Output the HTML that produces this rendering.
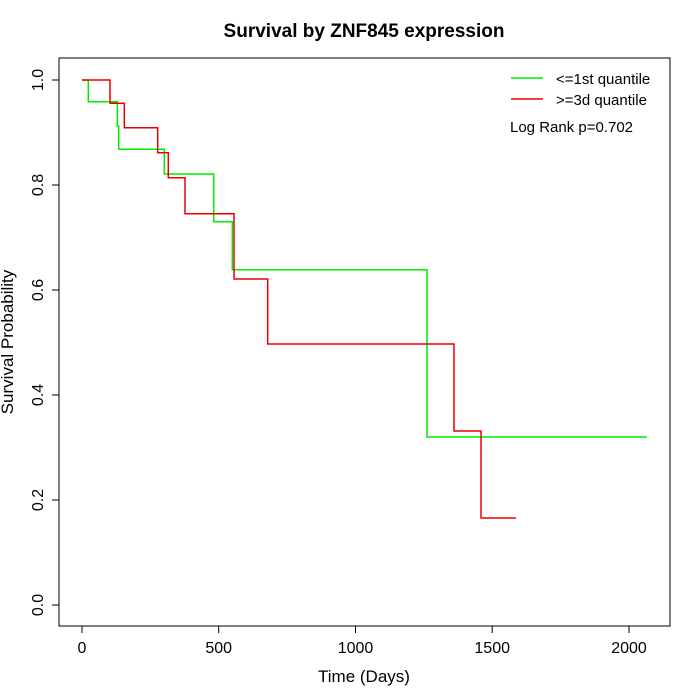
<!DOCTYPE html>
<html><head><meta charset="utf-8"><style>body{margin:0;background:#fff}svg{display:block}</style></head><body>
<svg width="700" height="700" xmlns="http://www.w3.org/2000/svg" font-family="Liberation Sans, Arial, sans-serif">
<rect width="700" height="700" fill="#fff"/>
<text x="364" y="37" font-size="19" font-weight="bold" text-anchor="middle">Survival by ZNF845 expression</text>
<rect x="59" y="58" width="611" height="568" fill="none" stroke="#000" stroke-width="1"/>
<g stroke="#000" stroke-width="1">
<line x1="82" y1="626" x2="629" y2="626"/>
<line x1="82" y1="626" x2="82" y2="633"/><line x1="218.7" y1="626" x2="218.7" y2="633"/><line x1="355.5" y1="626" x2="355.5" y2="633"/><line x1="492.2" y1="626" x2="492.2" y2="633"/><line x1="629" y1="626" x2="629" y2="633"/>
<line x1="59" y1="80" x2="59" y2="605"/>
<line x1="52" y1="605" x2="59" y2="605"/><line x1="52" y1="500" x2="59" y2="500"/><line x1="52" y1="395" x2="59" y2="395"/><line x1="52" y1="290" x2="59" y2="290"/><line x1="52" y1="185" x2="59" y2="185"/><line x1="52" y1="80" x2="59" y2="80"/>
</g>
<g font-size="16" text-anchor="middle">
<text x="82" y="653">0</text><text x="218.7" y="653">500</text><text x="355.5" y="653">1000</text><text x="492.2" y="653">1500</text><text x="629" y="653">2000</text>
<text x="364" y="682" font-size="17">Time (Days)</text>
</g>
<g font-size="16" text-anchor="middle">
<text transform="translate(43,605) rotate(-90)">0.0</text>
<text transform="translate(43,500) rotate(-90)">0.2</text>
<text transform="translate(43,395) rotate(-90)">0.4</text>
<text transform="translate(43,290) rotate(-90)">0.6</text>
<text transform="translate(43,185) rotate(-90)">0.8</text>
<text transform="translate(43,80) rotate(-90)">1.0</text>
<text transform="translate(13,342) rotate(-90)" font-size="17">Survival Probability</text>
</g>
<polyline fill="none" stroke="#00ee00" stroke-width="1.5" points="82,80 88.3,80 88.3,101.7 117.3,101.7 117.3,126 118.7,126 118.7,149.3 164.3,149.3 164.3,174 213.7,174 213.7,221.7 232.3,221.7 232.3,269.7 427,269.7 427,437 647,437"/>
<polyline fill="none" stroke="#ee0000" stroke-width="1.5" points="82,80 110,80 110,103.3 124.3,103.3 124.3,127.7 157.7,127.7 157.7,152.7 168.3,152.7 168.3,177.7 185,177.7 185,213.7 234,213.7 234,279 267.7,279 267.7,344 454,344 454,431 481,431 481,518 516,518"/>
<line x1="511" y1="78" x2="543" y2="78" stroke="#00ee00" stroke-width="1.5"/>
<line x1="511" y1="99" x2="543" y2="99" stroke="#ee0000" stroke-width="1.5"/>
<g font-size="15">
<text x="556" y="84">&lt;=1st quantile</text>
<text x="556" y="105">&gt;=3d quantile</text>
<text x="510" y="132">Log Rank p=0.702</text>
</g>
</svg>
</body></html>
